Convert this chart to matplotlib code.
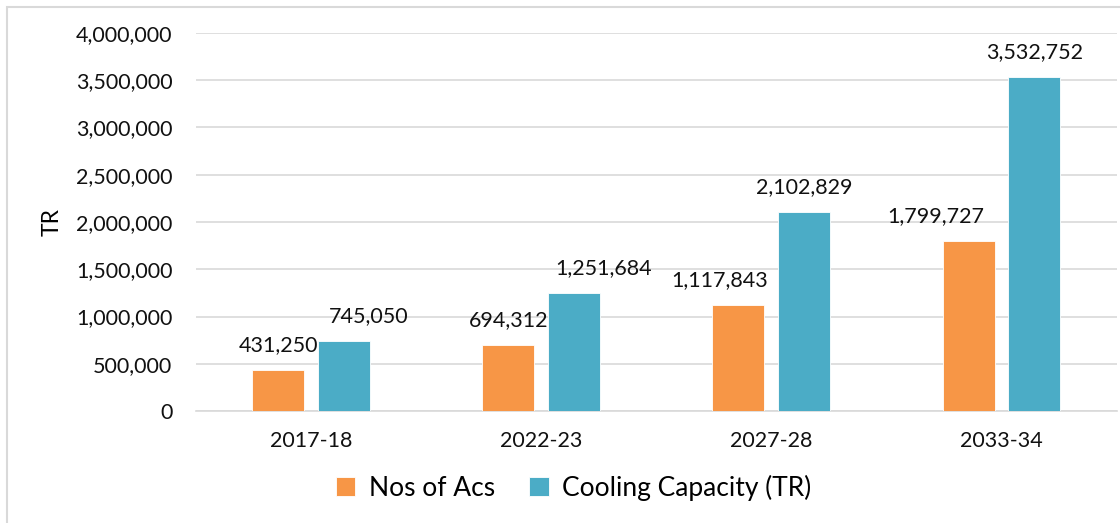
import numpy as np
import matplotlib.pyplot as plt
from matplotlib.patches import Rectangle
from matplotlib.ticker import FuncFormatter

plt.rcParams['font.family'] = ['Lato', 'DejaVu Sans']

years = ['2017-18', '2022-23', '2027-28', '2033-34']
nos_acs = [431250, 694312, 1117843, 1799727]
cooling_tr = [745050, 1251684, 2102829, 3532752]

# label nudges in pixels (excel moved some labels sideways)
acs_dx = [0, 0, -19, -33]
tr_dx = [25, 29, 0, 0]

orange = '#F79646'
blue = '#4BACC6'

fig = plt.figure(figsize=(11.2, 5.23), dpi=100)
ax = fig.add_axes([0.175, 0.214, 0.822, 0.723])

x = np.arange(len(years))
w = 0.226
off = 0.143
ax.bar(x - off, nos_acs, w, color=orange, edgecolor='white', linewidth=0.6,
       label='Nos of Acs', zorder=3)
ax.bar(x + off, cooling_tr, w, color=blue, edgecolor='white', linewidth=0.6,
       label='Cooling Capacity (TR)', zorder=3)

for i in range(len(years)):
    ax.annotate(f'{nos_acs[i]:,}', (x[i] - off, nos_acs[i]),
                xytext=(acs_dx[i], 25), textcoords='offset pixels',
                ha='center', va='center', fontsize=15.5, color='#111111')
    ax.annotate(f'{cooling_tr[i]:,}', (x[i] + off, cooling_tr[i]),
                xytext=(tr_dx[i], 25), textcoords='offset pixels',
                ha='center', va='center', fontsize=15.5, color='#111111')

ax.set_xlim(-0.5, 3.5)
ax.set_ylim(0, 4000000)
ax.set_yticks(np.arange(0, 4000001, 500000))
ax.yaxis.set_major_formatter(FuncFormatter(lambda v, p: f'{int(v):,}'))
ax.set_xticks(x)
ax.set_xticklabels(years)
ax.tick_params(length=0, labelsize=15.5, colors='#111111')
ax.tick_params(axis='y', pad=17)
ax.tick_params(axis='x', pad=14)
ax.grid(axis='y', color='#d9d9d9', linewidth=1.2, zorder=0)
for s in ['top', 'right', 'left']:
    ax.spines[s].set_visible(False)
ax.spines['bottom'].set_color('#d9d9d9')
ax.spines['bottom'].set_linewidth(1.2)
ax.set_ylabel('TR', fontsize=16.5)
ax.yaxis.set_label_coords(-0.145, 0.5)

ax.legend(loc='center', bbox_to_anchor=(0.41, -0.203), ncol=2, frameon=False,
          fontsize=19, handlelength=0.75, handleheight=0.75, columnspacing=1.3,
          handletextpad=0.5)

# outer chart border
fig.patches.append(Rectangle((0.006, -0.01), 1.2, 0.997, transform=fig.transFigure,
                             fill=False, edgecolor='#d9d9d9', linewidth=1.5))

fig.savefig('out.png', dpi=100)
